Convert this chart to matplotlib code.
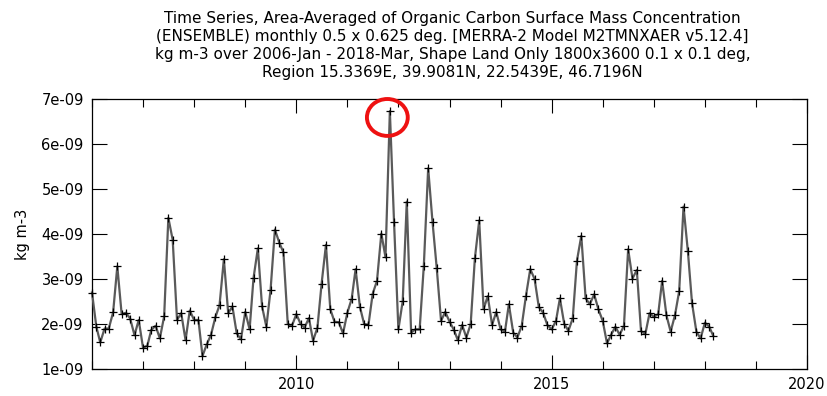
import numpy as np
import pandas as pd
import matplotlib
matplotlib.use("Agg")
import matplotlib.pyplot as plt
import matplotlib.dates as mdates
from matplotlib.patches import Ellipse

# monthly area-averaged organic carbon surface mass concentration, units of 1e-9 kg m-3
oc_2006 = [2.70, 1.94, 1.59, 1.90, 1.90, 2.26, 3.28, 2.22, 2.25, 2.12, 1.75, 2.09]
oc_2007 = [1.47, 1.52, 1.87, 1.96, 1.68, 2.17, 4.36, 3.87, 2.09, 2.24, 1.64, 2.30]
oc_2008 = [2.09, 2.09, 1.29, 1.55, 1.76, 2.15, 2.42, 3.44, 2.24, 2.39, 1.79, 1.66]
oc_2009 = [2.27, 1.88, 3.02, 3.68, 2.39, 1.94, 2.76, 4.10, 3.81, 3.59, 2.00, 1.96]
oc_2010 = [2.22, 2.00, 1.92, 2.13, 1.63, 1.92, 2.90, 3.76, 2.33, 2.05, 2.04, 1.79]
oc_2011 = [2.25, 2.56, 3.22, 2.38, 2.00, 1.98, 2.67, 2.96, 4.01, 3.48, 6.73, 4.26]
oc_2012 = [1.88, 2.51, 4.72, 1.81, 1.88, 1.88, 3.30, 5.46, 4.27, 3.25, 2.07, 2.27]
oc_2013 = [2.05, 1.87, 1.64, 1.98, 1.70, 2.00, 3.46, 4.30, 2.33, 2.62, 1.98, 2.27]
oc_2014 = [1.88, 1.83, 2.44, 1.81, 1.70, 1.96, 2.62, 3.22, 3.00, 2.38, 2.25, 1.98]
oc_2015 = [1.88, 2.07, 2.57, 2.00, 1.85, 2.13, 3.41, 3.96, 2.57, 2.44, 2.66, 2.33]
oc_2016 = [2.07, 1.57, 1.76, 1.94, 1.76, 1.96, 3.66, 3.01, 3.20, 1.84, 1.78, 2.24]
oc_2017 = [2.16, 2.22, 2.96, 2.19, 1.83, 2.20, 2.73, 4.61, 3.62, 2.46, 1.83, 1.68]
oc_2018 = [2.03, 1.94, 1.74]

ytick_vals = [1e-9, 2e-9, 3e-9, 4e-9, 5e-9, 6e-9, 7e-9]
ytick_labels = ["1e-09", "2e-09", "3e-09", "4e-09", "5e-09", "6e-09", "7e-09"]

title = ("Time Series, Area-Averaged of Organic Carbon Surface Mass Concentration\n"
         "(ENSEMBLE) monthly 0.5 x 0.625 deg. [MERRA-2 Model M2TMNXAER v5.12.4]\n"
         "kg m-3 over 2006-Jan - 2018-Mar, Shape Land Only 1800x3600 0.1 x 0.1 deg,\n"
         "Region 15.3369E, 39.9081N, 22.5439E, 46.7196N")

oc = np.array(oc_2006 + oc_2007 + oc_2008 + oc_2009 + oc_2010 + oc_2011 + oc_2012
              + oc_2013 + oc_2014 + oc_2015 + oc_2016 + oc_2017 + oc_2018) * 1e-9
dates = pd.date_range("2006-01-01", periods=len(oc), freq="MS")

fig = plt.figure(figsize=(8.27, 3.96), dpi=100)
ax = fig.add_axes([92 / 827, 27 / 396, 715 / 827, 270 / 396])

ax.plot(dates, oc, color="#5a5a5a", lw=1.6, marker="+", ms=6, mec="black",
        mew=0.9, clip_on=False, zorder=3)

ax.set_xlim(pd.Timestamp("2006-01-01"), pd.Timestamp("2020-01-01"))
ax.set_ylim(1e-9, 7e-9)
ax.set_yticks(ytick_vals)
ax.set_yticklabels(ytick_labels)
ax.xaxis.set_major_locator(mdates.YearLocator(5))
ax.xaxis.set_minor_locator(mdates.YearLocator(1))
ax.xaxis.set_major_formatter(mdates.DateFormatter("%Y"))

ax.tick_params(which="both", direction="in", top=True, right=True, width=0.8,
               labelsize=10.5, colors="black")
ax.tick_params(axis="x", which="major", length=10, pad=6)
ax.tick_params(axis="x", which="minor", length=5.5)
ax.tick_params(axis="y", which="major", length=11, pad=6)
for s in ax.spines.values():
    s.set_linewidth(0.9)

ax.set_ylabel("kg m-3", fontsize=10.5, labelpad=8)

# highlight the largest monthly value
k = int(np.argmax(oc))
cx = mdates.date2num(dates[k]) - 18
ell = Ellipse((cx, oc[k] - 0.14e-9), width=292, height=0.82e-9, fill=False,
              ec="#ee1111", lw=2.8, clip_on=False, zorder=4)
ax.add_patch(ell)

fig.text(0.547, 0.972, title, ha="center", va="top", fontsize=11, linespacing=1.24)

fig.savefig("out.png", dpi=100)
